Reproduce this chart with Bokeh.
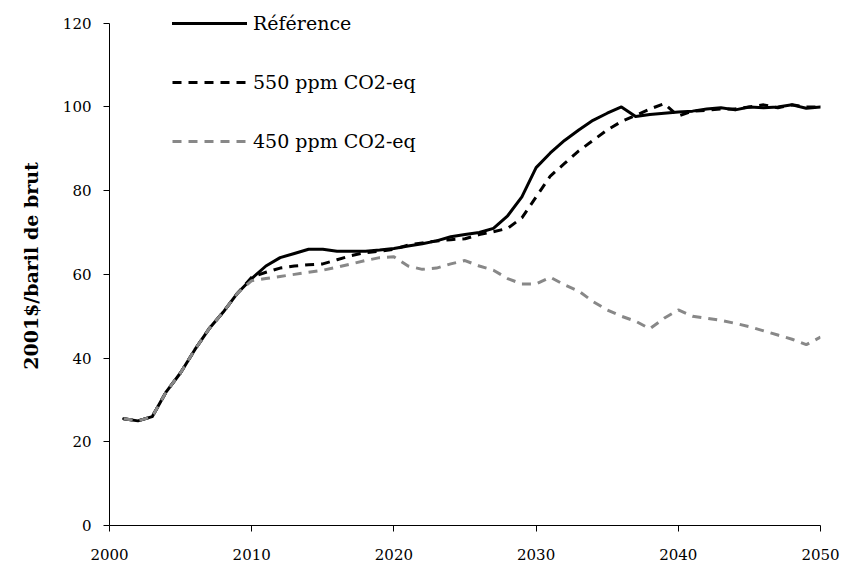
from bokeh.plotting import figure
from bokeh.models import Legend, LegendItem, FixedTicker, Range1d
from bokeh.embed import file_html
from bokeh.resources import INLINE

years = list(range(2001, 2051))

reference = [25.5, 25.0, 26.0, 32.0, 36.5, 42.0, 47.0, 51.0, 55.5, 59.0,
             62.0, 64.0, 65.0, 66.0, 66.0, 65.5, 65.5, 65.5, 65.8, 66.2,
             66.8, 67.3, 68.0, 69.0, 69.5, 70.0, 71.0, 74.0, 78.5, 85.5,
             89.0, 92.0, 94.5, 96.8, 98.5, 100.0, 97.7, 98.2, 98.5, 98.8,
             99.0, 99.5, 99.8, 99.3, 100.0, 99.8, 100.0, 100.5, 99.7, 100.0]

ppm550 = [25.5, 25.0, 26.0, 32.0, 36.5, 42.0, 47.0, 51.0, 55.5, 59.3,
          60.5, 61.5, 62.0, 62.3, 62.5, 63.5, 64.5, 65.2, 65.5, 66.0,
          67.0, 67.5, 68.0, 68.3, 68.5, 69.5, 70.2, 71.0, 73.5, 78.5,
          83.5, 86.5, 89.5, 92.0, 94.5, 96.5, 98.0, 99.5, 100.8, 97.8,
          99.0, 99.2, 99.5, 99.5, 100.0, 100.5, 99.8, 100.5, 100.0, 100.0]

ppm450 = [25.5, 25.0, 26.0, 32.0, 36.5, 42.0, 47.0, 51.0, 55.5, 58.5,
          59.0, 59.5, 60.0, 60.5, 61.0, 61.7, 62.5, 63.3, 64.0, 64.2,
          62.0, 61.2, 61.5, 62.5, 63.3, 62.0, 61.0, 59.0, 57.7, 57.7,
          59.3, 57.5, 56.0, 53.5, 51.5, 50.0, 48.8, 47.0, 49.5, 51.5,
          50.0, 49.5, 49.0, 48.3, 47.5, 46.5, 45.5, 44.5, 43.2, 45.0]

series_labels = ["Référence", "550 ppm CO2-eq", "450 ppm CO2-eq"]
x_ticks = [2000, 2010, 2020, 2030, 2040, 2050]
y_ticks = [0, 20, 40, 60, 80, 100, 120]
y_label = "2001$/baril de brut"

SERIF = "DejaVu Serif"

p = figure(width=841, height=568, output_backend="svg", toolbar_location=None,
           x_range=Range1d(2000, 2050), y_range=Range1d(0, 124),
           min_border_left=109, min_border_top=6, min_border_right=21,
           min_border_bottom=43)
p.outline_line_color = None
p.xgrid.visible = False
p.ygrid.visible = False

p.xaxis.ticker = FixedTicker(ticks=x_ticks)
p.yaxis.ticker = FixedTicker(ticks=y_ticks)
p.yaxis.bounds = (0, 120)
for ax in (p.xaxis[0], p.yaxis[0]):
    ax.axis_line_color = "black"
    ax.axis_line_width = 1
    ax.major_tick_line_color = "black"
    ax.major_tick_in = 0
    ax.major_tick_out = 6
    ax.minor_tick_line_color = None
    ax.major_label_text_font = SERIF
    ax.major_label_text_font_size = "15px"
    ax.major_label_text_color = "black"
p.xaxis.major_label_standoff = 17
p.yaxis.major_label_standoff = 12
p.yaxis.axis_label = y_label
p.yaxis.axis_label_text_font = SERIF
p.yaxis.axis_label_text_font_style = "bold"
p.yaxis.axis_label_text_font_size = "19px"
p.yaxis.axis_label_text_color = "black"
p.yaxis.axis_label_standoff = 18

r_ref = p.line(years, reference, line_color="black", line_width=3,
               line_join="round", line_cap="round")
r_550 = p.line(years, ppm550, line_color="black", line_width=3,
               line_dash="9 7")
r_450 = p.line(years, ppm450, line_color="#888888", line_width=3,
               line_dash="9 7")

legend = Legend(items=[LegendItem(label=series_labels[0], renderers=[r_ref]),
                       LegendItem(label=series_labels[1], renderers=[r_550]),
                       LegendItem(label=series_labels[2], renderers=[r_450])],
                location=(63, 373), orientation="vertical")
legend.glyph_width = 75
legend.glyph_height = 20
legend.label_height = 20
legend.spacing = 37
legend.padding = 0
legend.margin = 0
legend.label_standoff = 6
legend.label_text_font = SERIF
legend.label_text_font_size = "19px"
legend.label_text_color = "black"
legend.border_line_alpha = 0
legend.background_fill_alpha = 0
p.add_layout(legend)

open("out.html", "w").write(file_html(p, INLINE))
